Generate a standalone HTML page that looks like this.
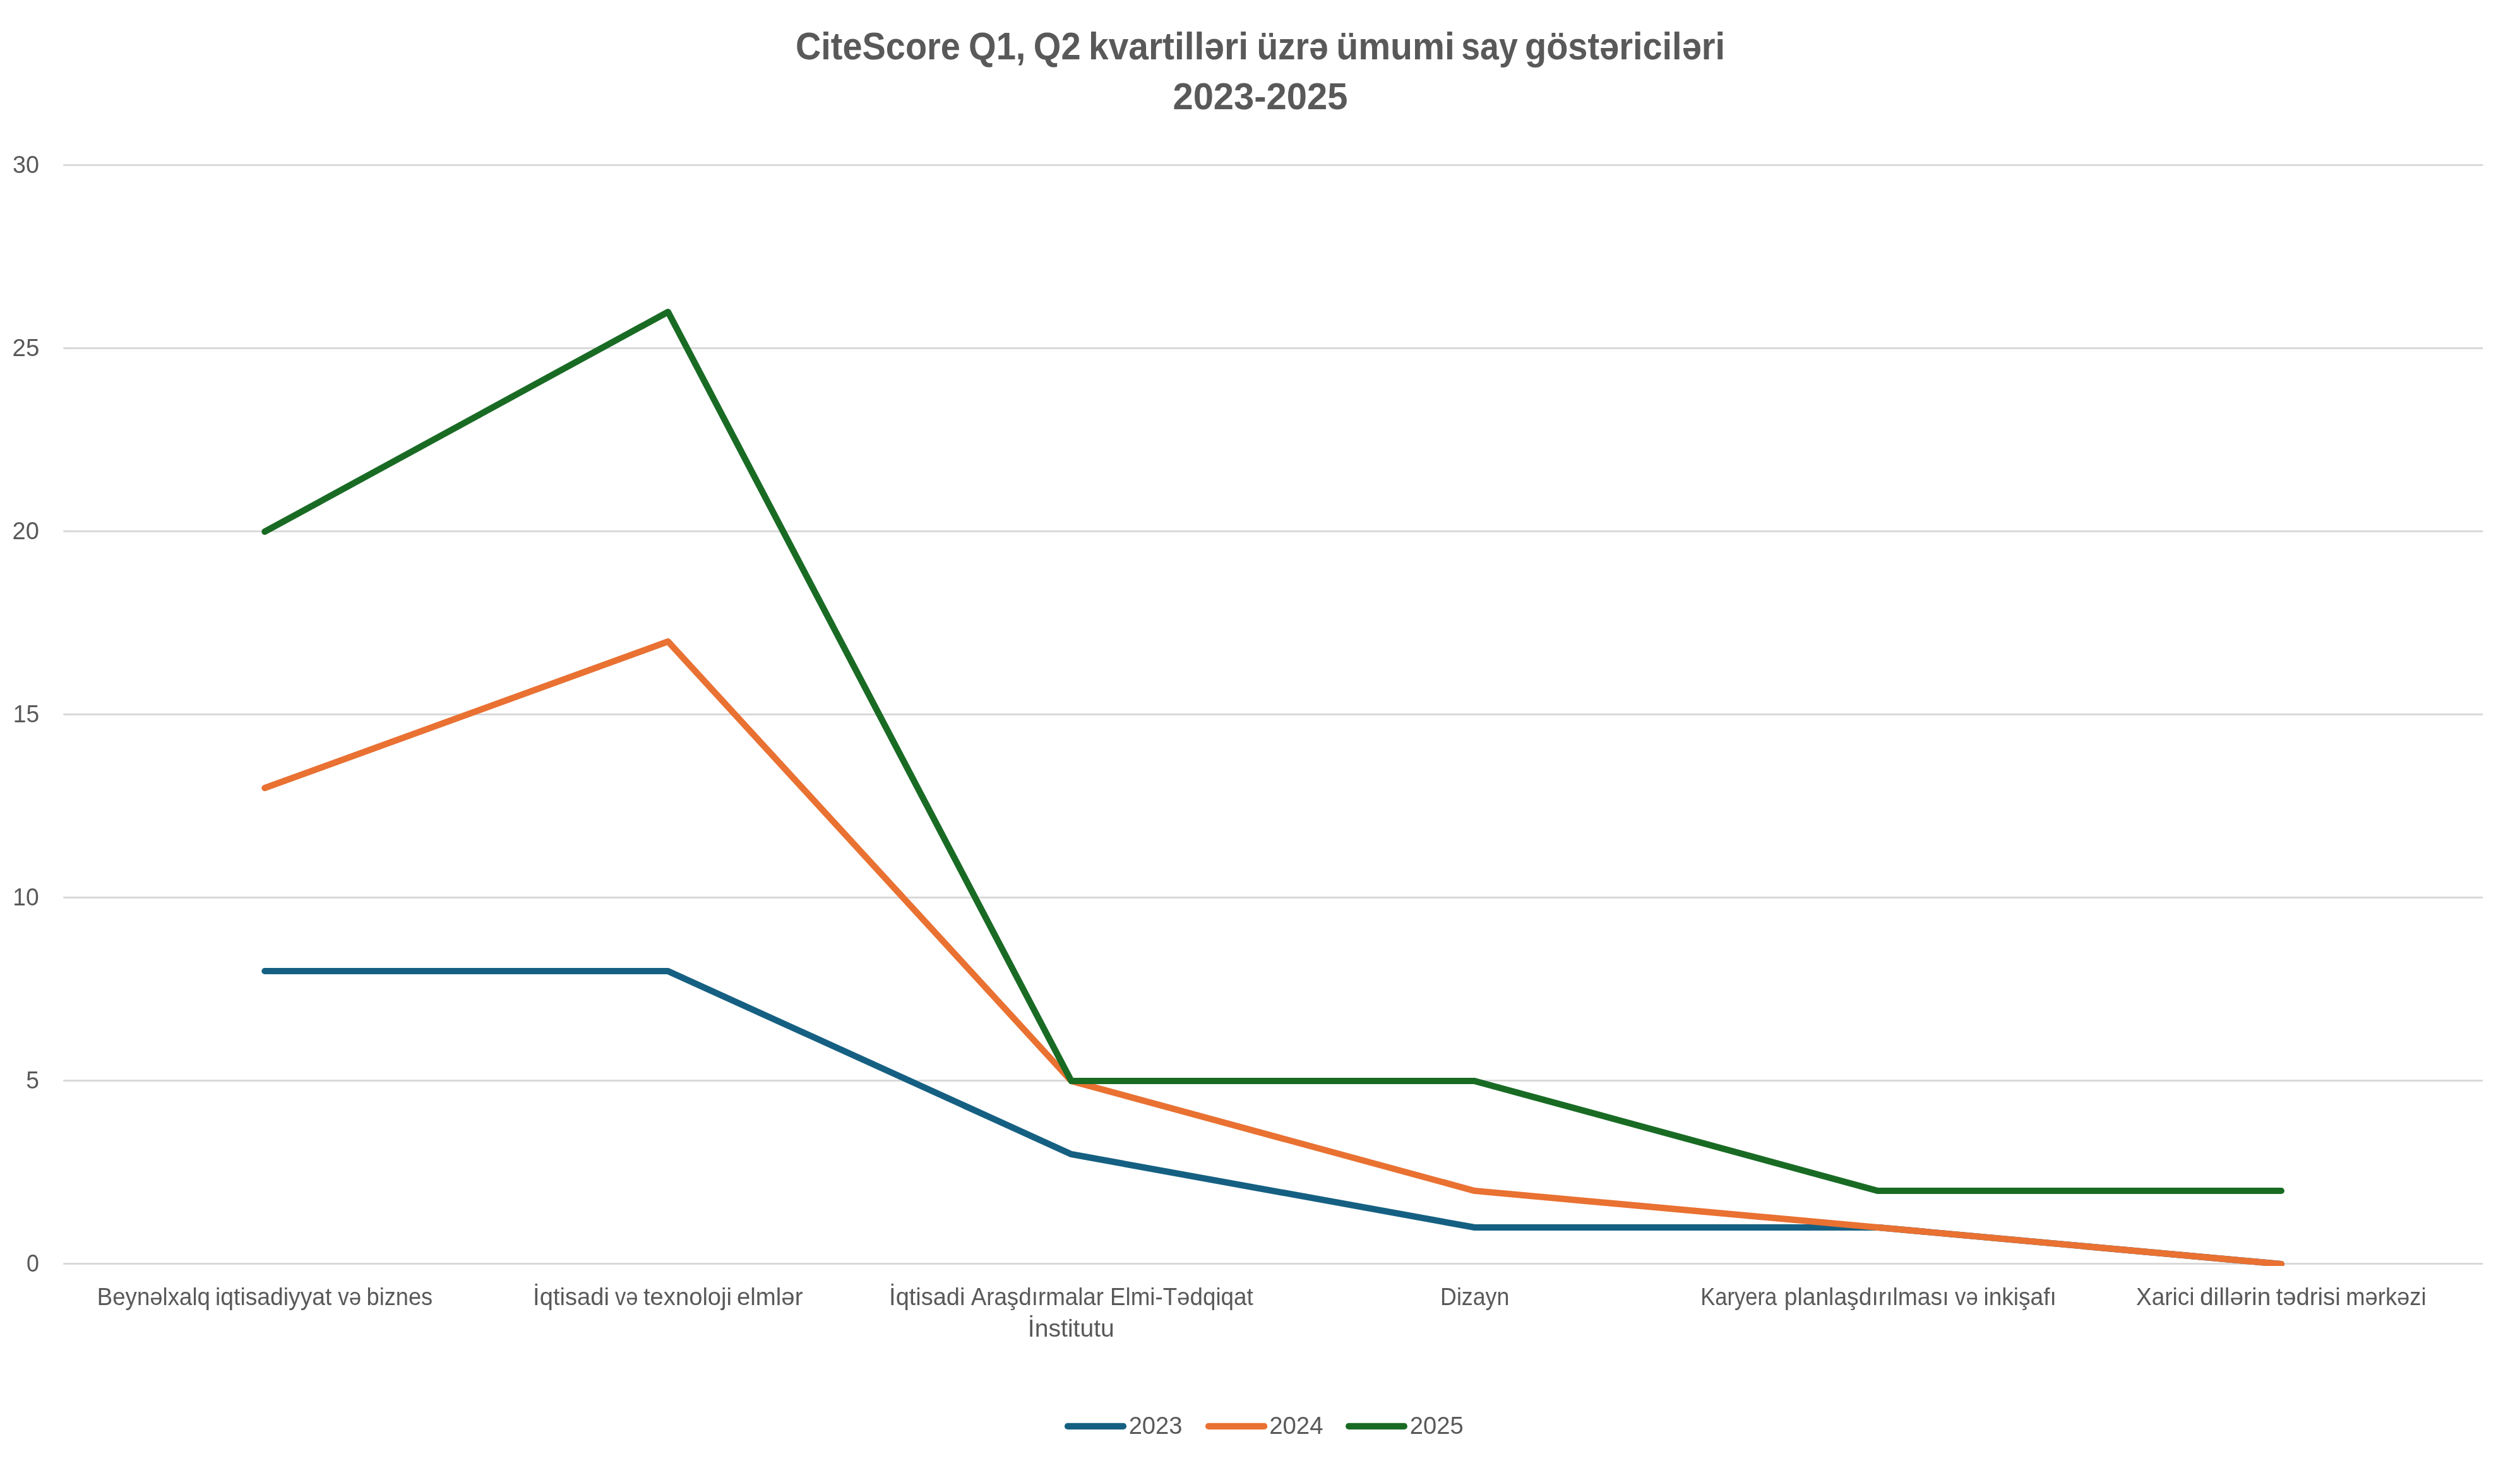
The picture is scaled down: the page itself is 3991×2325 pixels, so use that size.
<!DOCTYPE html>
<html lang="az">
<head>
<meta charset="utf-8">
<title>CiteScore Q1, Q2 kvartilləri üzrə ümumi say göstəriciləri 2023-2025</title>
<style>
html,body{margin:0;padding:0;background:#fff;}
body{width:3991px;height:2325px;overflow:hidden;}
svg{display:block;}
text{font-family:"Liberation Sans",sans-serif;fill:#595959;}
</style>
</head>
<body>
<svg width="3991" height="2325" viewBox="0 0 3991 2325">
<rect x="0" y="0" width="3991" height="2325" fill="#ffffff"/>
<g stroke="#D9D9D9" stroke-width="2.8" fill="none">
<line x1="100.3" y1="2001.50" x2="3932.3" y2="2001.50"/>
<line x1="100.3" y1="1711.50" x2="3932.3" y2="1711.50"/>
<line x1="100.3" y1="1421.50" x2="3932.3" y2="1421.50"/>
<line x1="100.3" y1="1131.50" x2="3932.3" y2="1131.50"/>
<line x1="100.3" y1="841.50" x2="3932.3" y2="841.50"/>
<line x1="100.3" y1="551.50" x2="3932.3" y2="551.50"/>
<line x1="100.3" y1="261.50" x2="3932.3" y2="261.50"/>
</g>
<defs><clipPath id="plot"><rect x="0" y="0" width="3991" height="2005"/></clipPath></defs>
<g fill="none" stroke-width="10.1" stroke-linecap="round" stroke-linejoin="round" clip-path="url(#plot)">
<polyline stroke="#156082" points="419.30,1538.05 1058.02,1538.05 1696.74,1828.05 2335.46,1944.05 2974.18,1944.05 3612.90,2002.05"/>
<polyline stroke="#E97132" points="419.30,1248.05 1058.02,1016.05 1696.74,1712.05 2335.46,1886.05 2974.18,1944.05 3612.90,2002.05"/>
<polyline stroke="#196B24" points="419.30,842.05 1058.02,494.05 1696.74,1712.05 2335.46,1712.05 2974.18,1886.05 3612.90,1886.05"/>
</g>
<g fill="none" stroke-width="10.1" stroke-linecap="round">
<line stroke="#156082" x1="1691.0" y1="2258.9" x2="1779.0" y2="2258.9"/>
<line stroke="#E97132" x1="1914.0" y1="2258.9" x2="2002.2" y2="2258.9"/>
<line stroke="#196B24" x1="2136.1" y1="2258.9" x2="2223.9" y2="2258.9"/>
</g>
<g opacity="0.999">
<g id="t1" font-size="61.4" font-weight="bold">
<text transform="translate(1259.89 94.00) scale(0.9108 1)">CiteScore</text>
<text transform="translate(1534.00 94.00) scale(0.9137 1)">Q1,</text>
<text transform="translate(1636.87 94.00) scale(0.9130 1)">Q2</text>
<text transform="translate(1724.00 94.00) scale(0.9265 1)">kvartilləri</text>
<text transform="translate(1990.39 94.00) scale(0.8975 1)">üzrə</text>
<text transform="translate(2116.18 94.00) scale(0.9327 1)">ümumi</text>
<text transform="translate(2314.33 94.00) scale(0.8725 1)">say</text>
<text transform="translate(2414.99 94.00) scale(0.9112 1)">göstəriciləri</text>
</g>
<g id="t2" font-size="59.4" font-weight="bold">
<text transform="translate(1857.43 172.80) scale(0.9750 1)">2023-2025</text>
</g>
<g id="x1" font-size="38.4" font-weight="normal">
<text transform="translate(153.84 2066.70) scale(0.9536 1)">Beynəlxalq</text>
<text transform="translate(341.09 2066.70) scale(0.9706 1)">iqtisadiyyat</text>
<text transform="translate(535.33 2066.70) scale(0.9062 1)">və</text>
<text transform="translate(580.59 2066.70) scale(0.9426 1)">biznes</text>
</g>
<g id="x2" font-size="38.4" font-weight="normal">
<text transform="translate(844.10 2066.70) scale(0.9928 1)">İqtisadi</text>
<text transform="translate(973.96 2066.70) scale(0.9006 1)">və</text>
<text transform="translate(1018.99 2066.70) scale(0.9946 1)">texnoloji</text>
<text transform="translate(1166.93 2066.70) scale(1.0003 1)">elmlər</text>
</g>
<g id="x3a" font-size="38.4" font-weight="normal">
<text transform="translate(1408.08 2066.70) scale(0.9895 1)">İqtisadi</text>
<text transform="translate(1537.67 2066.70) scale(0.9575 1)">Araşdırmalar</text>
<text transform="translate(1757.99 2066.70) scale(0.9569 1)">Elmi-Tədqiqat</text>
</g>
<g id="x3b" font-size="38.4" font-weight="normal">
<text transform="translate(1627.87 2116.50) scale(1.0183 1)">İnstitutu</text>
</g>
<g id="x4" font-size="38.4" font-weight="normal">
<text transform="translate(2281.10 2066.70) scale(0.9308 1)">Dizayn</text>
</g>
<g id="x5" font-size="38.4" font-weight="normal">
<text transform="translate(2693.26 2066.70) scale(0.8998 1)">Karyera</text>
<text transform="translate(2825.66 2066.70) scale(0.9705 1)">planlaşdırılması</text>
<text transform="translate(3095.99 2066.70) scale(0.9058 1)">və</text>
<text transform="translate(3141.41 2066.70) scale(0.9661 1)">inkişafı</text>
</g>
<g id="x6" font-size="38.4" font-weight="normal">
<text transform="translate(3383.07 2066.70) scale(0.9636 1)">Xarici</text>
<text transform="translate(3484.00 2066.70) scale(1.0116 1)">dillərin</text>
<text transform="translate(3604.66 2066.70) scale(0.9963 1)">tədrisi</text>
<text transform="translate(3715.31 2066.70) scale(0.9471 1)">mərkəzi</text>
</g>
<g id="l1" font-size="38.4" font-weight="normal">
<text transform="translate(1787.66 2270.80) scale(0.9934 1)">2023</text>
</g>
<g id="l2" font-size="38.4" font-weight="normal">
<text transform="translate(2010.19 2270.80) scale(0.9992 1)">2024</text>
</g>
<g id="l3" font-size="38.4" font-weight="normal">
<text transform="translate(2232.87 2270.80) scale(0.9940 1)">2025</text>
</g>
<g id="y30" font-size="38.0" font-weight="normal">
<text transform="translate(19.94 274.10) scale(0.9915 1)">30</text>
</g>
<g id="y25" font-size="38.0" font-weight="normal">
<text transform="translate(19.45 564.10) scale(1.0161 1)">25</text>
</g>
<g id="y20" font-size="38.0" font-weight="normal">
<text transform="translate(19.51 854.10) scale(1.0015 1)">20</text>
</g>
<g id="y15" font-size="38.0" font-weight="normal">
<text transform="translate(20.72 1144.10) scale(0.9800 1)">15</text>
</g>
<g id="y10" font-size="38.0" font-weight="normal">
<text transform="translate(20.35 1434.10) scale(0.9800 1)">10</text>
</g>
<g id="y5" font-size="38.0" font-weight="normal">
<text transform="translate(41.13 1724.10) scale(0.9834 1)">5</text>
</g>
<g id="y0" font-size="38.0" font-weight="normal">
<text transform="translate(41.92 2014.10) scale(0.9419 1)">0</text>
</g>
</g>
</svg>
</body>
</html>
